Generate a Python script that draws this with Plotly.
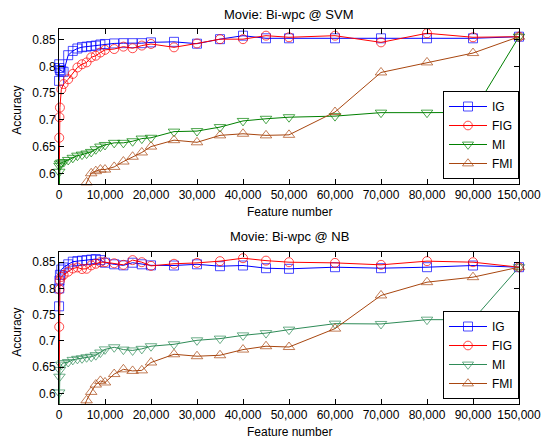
import plotly.graph_objects as go

# ---------------- data ----------------
features = [10, 50, 100, 200, 500, 1000, 2000, 3000, 4000, 5000, 6000, 7000, 8000, 9000, 10000,
            12000, 14000, 16000, 18000, 20000, 25000, 30000, 35000, 40000, 45000, 50000,
            60000, 70000, 80000, 90000, 150000]
features_fmi = features[9:]  # from 5000 on

svm_ig = [0.773, 0.804, 0.797, 0.793, 0.792, 0.790, 0.821, 0.829, 0.8335, 0.836, 0.837, 0.838, 0.839, 0.841, 0.842,
          0.843, 0.8435, 0.8435, 0.8435, 0.845, 0.846, 0.8425, 0.851, 0.8575, 0.8526, 0.8526,
          0.8526, 0.8526, 0.8526, 0.8526, 0.8556]
svm_fig = [0.55, 0.6665, 0.705, 0.723, 0.757, 0.767, 0.776, 0.786, 0.798, 0.804, 0.8075, 0.817, 0.820, 0.826, 0.831,
           0.8325, 0.837, 0.834, 0.839, 0.842, 0.8357, 0.843, 0.851, 0.851, 0.8575, 0.8545,
           0.8575, 0.845, 0.862, 0.8545, 0.8556]
svm_mi = [0.55, 0.603, 0.614, 0.618, 0.620, 0.621, 0.625, 0.629, 0.633, 0.635, 0.637, 0.640, 0.645, 0.650, 0.653,
          0.657, 0.657, 0.660, 0.665, 0.6665, 0.678, 0.679, 0.6865, 0.698, 0.702, 0.705,
          0.707, 0.7135, 0.7135, 0.714, 0.8556]
svm_fmi = [0.565, 0.583, 0.600, 0.604, 0.607, 0.607,
           0.612, 0.622, 0.631, 0.639, 0.650, 0.662, 0.658, 0.671, 0.674, 0.671, 0.672,
           0.7147, 0.7887, 0.8075, 0.825, 0.8556]

nb_ig = [0.766, 0.800, 0.815, 0.826, 0.836, 0.840, 0.846, 0.851, 0.852, 0.853, 0.854, 0.855, 0.856, 0.854, 0.849,
         0.846, 0.844, 0.849, 0.846, 0.844, 0.8437, 0.846, 0.8424, 0.8437, 0.8386, 0.8374,
         0.8405, 0.8386, 0.8405, 0.8437, 0.8405]
nb_fig = [0.55, 0.727, 0.798, 0.815, 0.822, 0.826, 0.832, 0.838, 0.840, 0.837, 0.8375, 0.844, 0.847, 0.850, 0.850,
          0.848, 0.845, 0.854, 0.850, 0.843, 0.847, 0.8487, 0.852, 0.8576, 0.853, 0.850,
          0.8487, 0.845, 0.852, 0.850, 0.8405]
nb_mi = [0.55, 0.602, 0.632, 0.645, 0.655, 0.658, 0.660, 0.664, 0.666, 0.667, 0.669, 0.670, 0.673, 0.678, 0.684,
         0.688, 0.6836, 0.682, 0.685, 0.690, 0.6937, 0.7013, 0.7045, 0.7107, 0.715, 0.7216,
         0.733, 0.7324, 0.7406, 0.7406, 0.8405]
nb_fmi = [0.565, 0.587, 0.603, 0.617, 0.624, 0.621,
          0.637, 0.646, 0.643, 0.644, 0.659, 0.6747, 0.671, 0.6728, 0.6836, 0.690, 0.6885,
          0.7235, 0.7867, 0.812, 0.8215, 0.8405]

tick_features = [0, 10000, 20000, 30000, 40000, 50000, 60000, 70000, 80000, 90000, 150000]
tick_labels = ["0", "10,000", "20,000", "30,000", "40,000", "50,000", "60,000", "70,000", "80,000", "90,000", "150,000"]
y_ticks = [0.6, 0.65, 0.7, 0.75, 0.8, 0.85]
y_tick_labels = ["0.6", "0.65", "0.7", "0.75", "0.8", "0.85"]
series_names = ["IG", "FIG", "MI", "FMI"]
titles = ["Movie: Bi-wpc @ SVM", "Movie: Bi-wpc @ NB"]

Y_MIN, Y_MAX = 0.58, 0.87


def axis_pos(v):
    # broken axis: the last segment 90,000 -> 150,000 is drawn as one tick step
    return v if v <= 90000 else 90000 + (v - 90000) * 10000 / 60000


FONT = "Liberation Sans, Arial, sans-serif"
fig = go.Figure()

styles = [
    ("square-open", "#0000FF"),
    ("circle-open", "#FF0000"),
    ("triangle-down-open", None),
    ("triangle-up-open", "#A8460F"),
]
mi_colors = ["#008000", "#2E8B57"]

panels = [
    ([svm_ig, svm_fig, svm_mi, svm_fmi], "x", "y", "legend"),
    ([nb_ig, nb_fig, nb_mi, nb_fmi], "x2", "y2", "legend2"),
]

for p, (vals, xa, ya, lg) in enumerate(panels):
    for i, name in enumerate(series_names):
        xs = features_fmi if name == "FMI" else features
        ys = vals[i]
        sym, col = styles[i]
        if col is None:
            col = mi_colors[p]
        base = 10 if "triangle" in sym else 9
        sizes = [base if y >= Y_MIN else 0 for y in ys]
        fig.add_trace(go.Scatter(
            x=[axis_pos(v) for v in xs], y=ys, name=name, mode="lines+markers",
            xaxis=xa, yaxis=ya, legend=lg, cliponaxis=False,
            line=dict(color=col, width=1),
            marker=dict(symbol=sym, size=sizes, color=col, line=dict(width=1, color=col)),
        ))

common_x = dict(
    range=[0, 100000], tickmode="array",
    tickvals=[axis_pos(v) for v in tick_features], ticktext=tick_labels,
    ticks="inside", ticklen=5, tickcolor="black", tickwidth=1,
    showline=True, linecolor="black", linewidth=1, mirror="ticks",
    showgrid=False, zeroline=False,
    tickfont=dict(family=FONT, size=12, color="black"),
)
common_y = dict(
    range=[Y_MIN, Y_MAX], tickmode="array", tickvals=y_ticks, ticktext=y_tick_labels,
    ticks="inside", ticklen=5, tickcolor="black", tickwidth=1,
    showline=True, linecolor="black", linewidth=1, mirror="ticks",
    showgrid=False, zeroline=False,
    tickfont=dict(family=FONT, size=12, color="black"),
)

# The page body has an 8 px default margin, so the figure is drawn 8 px in from the
# window corner; sizes below are chosen so the plot areas land where the reference has them.
OFF = 8
FIG_W, FIG_H = 553 - OFF, 439 - OFF
PLOT_L, PLOT_R, PLOT_T, PLOT_B = 59, 527, 29, 404   # in window pixels
H_PLOT = float(PLOT_B - PLOT_T)
W_PLOT = float(PLOT_R - PLOT_L)


def py(pix):
    return (PLOT_B - pix) / H_PLOT


def px(pix):
    return (pix - PLOT_L) / W_PLOT


legend_style = dict(
    xanchor="right", x=1, yanchor="bottom",
    bgcolor="white", bordercolor="black", borderwidth=1,
    font=dict(family=FONT, size=12, color="black"),
    tracegroupgap=0, itemwidth=38,
)

fig.update_layout(
    width=FIG_W, height=FIG_H,
    margin=dict(l=PLOT_L - OFF, r=553 - PLOT_R, t=PLOT_T - OFF, b=439 - PLOT_B, pad=0),
    paper_bgcolor="white", plot_bgcolor="white",
    font=dict(family=FONT, size=12, color="black"),
    xaxis=dict(domain=[0, 1], anchor="y", **common_x),
    yaxis=dict(domain=[py(184), 1], anchor="x", **common_y),
    xaxis2=dict(domain=[0, 1], anchor="y2", **common_x),
    yaxis2=dict(domain=[0, py(251.7)], anchor="x2", **common_y),
    legend=dict(y=py(179), **legend_style),
    legend2=dict(y=py(399), **legend_style),
    showlegend=True,
)

ann = []
for t, ty in zip(titles, [15, 236]):
    ann.append(dict(text=t, x=0.5, y=py(ty), xref="paper", yref="paper", showarrow=False,
                    xanchor="center", yanchor="middle", font=dict(family=FONT, size=13, color="black")))
for ty in [211.7, 431.7]:
    ann.append(dict(text="Feature number", x=0.5, y=py(ty), xref="paper", yref="paper", showarrow=False,
                    xanchor="center", yanchor="middle", font=dict(family=FONT, size=12, color="black")))
for ty in [110, 332]:
    ann.append(dict(text="Accuracy", x=px(16), y=py(ty), xref="paper", yref="paper",
                    showarrow=False, textangle=-90, xanchor="center", yanchor="middle",
                    font=dict(family=FONT, size=12, color="black")))
fig.update_layout(annotations=ann)

fig.write_html("out.html")
